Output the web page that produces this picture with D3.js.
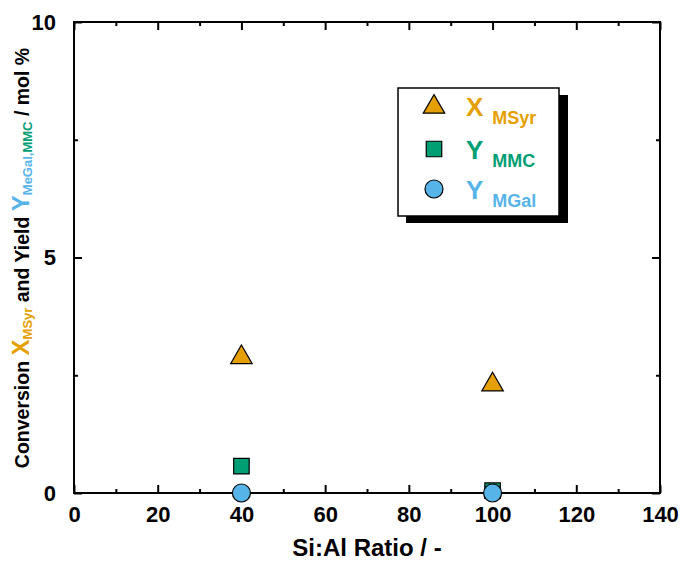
<!DOCTYPE html>
<html>
<head>
<meta charset="utf-8">
<script src="https://cdn.jsdelivr.net/npm/d3@7"></script>
<style>
  html, body { margin: 0; padding: 0; background: #fff; }
  svg { display: block; font-family: "Liberation Sans", Arial, sans-serif; font-weight: bold; }
</style>
</head>
<body>
<svg id="chart" width="680" height="563"></svg>
<script>
// Si:Al ratio of the catalysts
const ratios = [40, 100];
// Conversion of MSyr and yields of MMC / MGal, mol %
const xMSyr = [2.9, 2.32];
const yMMC = [0.57, 0.05];
const yMGal = [0.0, 0.0];

const xTicks = [0, 20, 40, 60, 80, 100, 120, 140];
const yTicks = [0, 5, 10];

const colors = { msyr: "#E69F00", mmc: "#009E73", mgal: "#56B4E9" };

const svg = d3.select("#chart");

const x = d3.scaleLinear().domain([0, 140]).range([74, 660]);
const y = d3.scaleLinear().domain([0, 10]).range([493, 22]);

// Axes with inward ticks; minor ticks in between
const xMinor = d3.range(10, 140, 20);
const yMinor = [2.5, 7.5];

function axisGroup(axis, tx, ty) {
  const g = svg.append("g").attr("transform", `translate(${tx},${ty})`).call(axis);
  g.select(".domain").remove();
  g.selectAll(".tick line").attr("stroke", "#000").attr("stroke-width", 2);
  return g;
}
function styleLabels(g) {
  g.selectAll(".tick text").attr("font-size", 22).attr("font-weight", "bold").attr("fill", "#000")
    .attr("font-family", "Liberation Sans, Arial, sans-serif");
}

// bottom
const gxb = axisGroup(d3.axisBottom(x).tickValues(xTicks).tickSize(-8).tickPadding(13).tickFormat(d3.format("d")), 0, y(0));
styleLabels(gxb);
axisGroup(d3.axisBottom(x).tickValues(xMinor).tickSize(-4).tickFormat(""), 0, y(0));
// top
axisGroup(d3.axisTop(x).tickValues(xTicks).tickSize(-8).tickFormat(""), 0, y(10));
axisGroup(d3.axisTop(x).tickValues(xMinor).tickSize(-4).tickFormat(""), 0, y(10));
// left
const gyl = axisGroup(d3.axisLeft(y).tickValues(yTicks).tickSize(-8).tickPadding(18).tickFormat(d3.format("d")), x(0), 0);
styleLabels(gyl);
axisGroup(d3.axisLeft(y).tickValues(yMinor).tickSize(-4).tickFormat(""), x(0), 0);
// right
axisGroup(d3.axisRight(y).tickValues(yTicks).tickSize(-8).tickFormat(""), x(140), 0);
axisGroup(d3.axisRight(y).tickValues(yMinor).tickSize(-4).tickFormat(""), x(140), 0);

// frame
svg.append("rect")
  .attr("x", x(0)).attr("y", y(10))
  .attr("width", x(140) - x(0)).attr("height", y(0) - y(10))
  .attr("fill", "none").attr("stroke", "#000").attr("stroke-width", 2);

// x title
svg.append("text").attr("x", 367).attr("y", 556).attr("text-anchor", "middle")
  .attr("font-size", 24).text("Si:Al Ratio / -");

// y title with coloured symbols and subscripts
const yt = svg.append("text")
  .attr("transform", "translate(29,258) rotate(-90)")
  .attr("text-anchor", "middle").attr("font-size", 19.5);
yt.append("tspan").text("Conversion ");
yt.append("tspan").attr("fill", colors.msyr).attr("font-size", 24).text("X");
yt.append("tspan").attr("fill", colors.msyr).attr("font-size", 13).attr("dy", 3).text("MSyr");
yt.append("tspan").attr("dy", -3).text("  and  Yield ");
yt.append("tspan").attr("fill", colors.mgal).attr("font-size", 24).text("Y");
yt.append("tspan").attr("fill", colors.mgal).attr("font-size", 13).attr("dy", 3).text("MeGal,");
yt.append("tspan").attr("fill", colors.mmc).attr("font-size", 13).text("MMC");
yt.append("tspan").attr("dy", -3).text("  / mol %");

// marker shapes
const tri = d3.symbol().type(d3.symbolTriangle).size(200);
const sq = d3.symbol().type(d3.symbolSquare).size(240);

function triPath(cx, cy) { return `translate(${cx},${cy + 1})`; }

const pts = svg.append("g");
// triangles: MSyr conversion
pts.selectAll(".tri").data(ratios).join("path")
  .attr("d", tri).attr("transform", (d, i) => triPath(x(d), y(xMSyr[i])))
  .attr("fill", colors.msyr).attr("stroke", "#000").attr("stroke-width", 1.2);
// squares: MMC yield
pts.selectAll(".sq").data(ratios).join("path")
  .attr("d", sq).attr("transform", (d, i) => `translate(${x(d)},${y(yMMC[i])})`)
  .attr("fill", colors.mmc).attr("stroke", "#000").attr("stroke-width", 1.2);
// circles: MGal yield
pts.selectAll(".ci").data(ratios).join("circle")
  .attr("cx", d => x(d)).attr("cy", (d, i) => y(yMGal[i])).attr("r", 9)
  .attr("fill", colors.mgal).attr("stroke", "#000").attr("stroke-width", 1.2);

// legend with drop shadow
const lg = svg.append("g");
lg.append("rect").attr("x", 406).attr("y", 95).attr("width", 162).attr("height", 128).attr("fill", "#000");
lg.append("rect").attr("x", 398).attr("y", 88).attr("width", 161).attr("height", 128)
  .attr("fill", "#fff").attr("stroke", "#000").attr("stroke-width", 1.5);

const legendItems = [
  { key: "msyr", sym: "X", sub: "MSyr", shape: "tri", ly: 106 },
  { key: "mmc", sym: "Y", sub: "MMC", shape: "sq", ly: 149 },
  { key: "mgal", sym: "Y", sub: "MGal", shape: "ci", ly: 189 }
];
legendItems.forEach(it => {
  if (it.shape === "tri") {
    lg.append("path").attr("d", tri).attr("transform", triPath(434, it.ly))
      .attr("fill", colors[it.key]).attr("stroke", "#000").attr("stroke-width", 1.2);
  } else if (it.shape === "sq") {
    lg.append("path").attr("d", sq).attr("transform", `translate(434,${it.ly})`)
      .attr("fill", colors[it.key]).attr("stroke", "#000").attr("stroke-width", 1.2);
  } else {
    lg.append("circle").attr("cx", 434).attr("cy", it.ly).attr("r", 9)
      .attr("fill", colors[it.key]).attr("stroke", "#000").attr("stroke-width", 1.2);
  }
  const t = lg.append("text").attr("x", 466).attr("y", it.ly + 10).attr("fill", colors[it.key]);
  t.append("tspan").attr("font-size", 26).text(it.sym);
  t.append("tspan").attr("font-size", 18).attr("dx", 9).attr("dy", 8).text(it.sub);
});
</script>
</body>
</html>
